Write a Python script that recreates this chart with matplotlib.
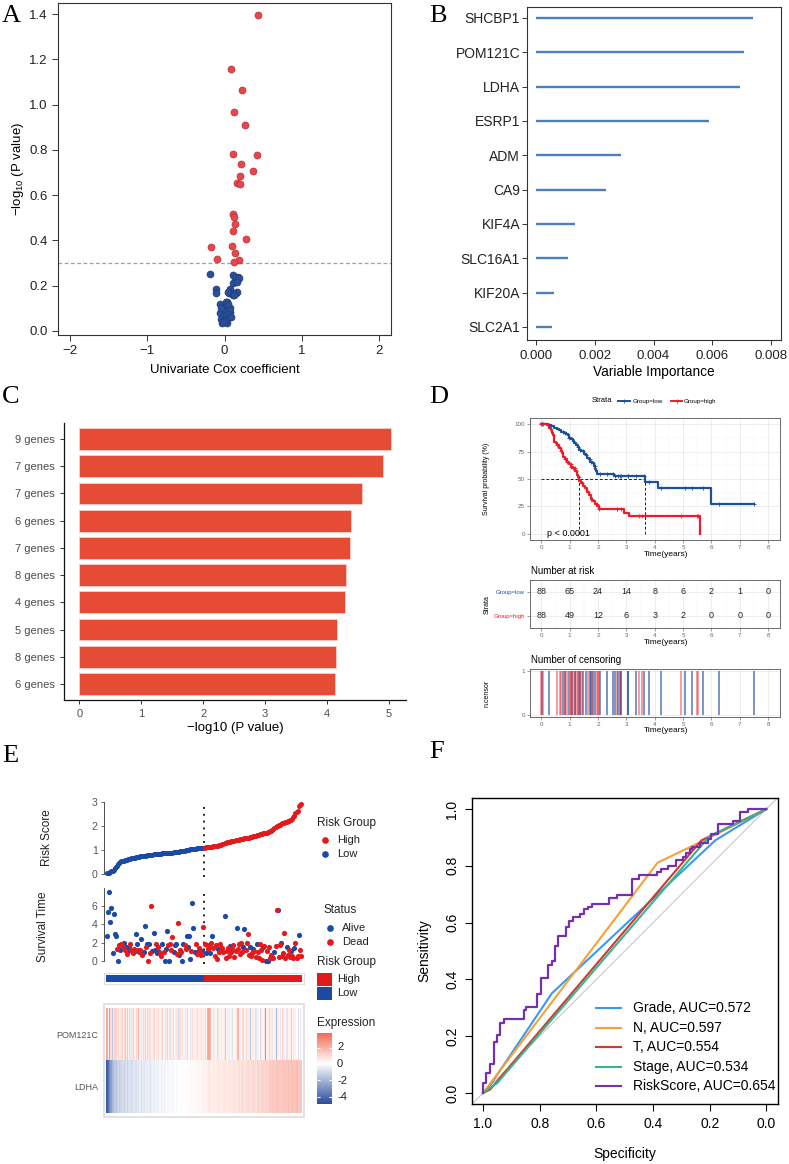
import numpy as np
import matplotlib.pyplot as plt
from matplotlib.lines import Line2D
from matplotlib.patches import Rectangle
from matplotlib.colors import LinearSegmentedColormap, Normalize

plt.rcParams['font.family'] = ['Liberation Sans', 'DejaVu Sans']
plt.rcParams['mathtext.fontset'] = 'custom'
plt.rcParams['mathtext.rm'] = 'Liberation Sans'
plt.rcParams['mathtext.default'] = 'regular'

# ── A : volcano Cox univarié ──
cox_coef = [0.437, 0.082, 0.229, 0.121, 0.268, 0.113, 0.420, 0.212, 0.368, 0.203,
            0.156, 0.203, 0.108, 0.126, 0.139, 0.113, 0.277, -0.169, 0.100, 0.130,
            -0.095, 0.190, 0.117,
            -0.186, 0.113, 0.173, 0.139, 0.186, 0.108, 0.156, -0.104, -0.104, 0.069,
            0.052, 0.104, 0.143, 0.078, 0.035, -0.052, 0.017, 0.069, -0.017, -0.061,
            0.056, -0.009, -0.039, 0.035, -0.030, 0.026, 0.000, -0.043, 0.013, 0.069,
            -0.020, 0.040, 0.160, 0.120, 0.090, 0.050]
cox_logp = [1.397, 1.159, 1.065, 0.969, 0.910, 0.780, 0.776, 0.739, 0.705, 0.683,
            0.654, 0.649, 0.515, 0.502, 0.473, 0.442, 0.408, 0.372, 0.377, 0.346,
            0.318, 0.312, 0.305,
            0.253, 0.249, 0.238, 0.233, 0.234, 0.213, 0.216, 0.184, 0.169, 0.184,
            0.166, 0.159, 0.169, 0.174, 0.130, 0.119, 0.110, 0.084, 0.093, 0.078,
            0.075, 0.066, 0.052, 0.053, 0.037, 0.037, 0.049, 0.100, 0.130, 0.100,
            0.040, 0.170, 0.170, 0.160, 0.060, 0.120]
cox_cut = 0.3

# ── B : importance des variables ──
genes_B = ["SHCBP1", "POM121C", "LDHA", "ESRP1", "ADM", "CA9", "KIF4A",
           "SLC16A1", "KIF20A", "SLC2A1"]
importance_B = [0.00738, 0.00709, 0.00695, 0.00588, 0.00289, 0.00238, 0.00134,
                0.00110, 0.00060, 0.00056]

# ── C : combinaisons de gènes ──
combo_labels = ["9 genes", "7 genes", "7 genes", "6 genes", "7 genes", "8 genes",
                "4 genes", "5 genes", "8 genes", "6 genes"]
combo_logp = [5.03, 4.91, 4.57, 4.39, 4.37, 4.31, 4.29, 4.16, 4.15, 4.14]

# ── D : Kaplan-Meier ──
km_low_t = [0, 0.25, 0.35, 0.45, 0.55, 0.62, 0.70, 0.80, 0.87, 0.93, 0.97, 1.05,
            1.10, 1.15, 1.22, 1.28, 1.33, 1.40, 1.50, 1.58, 1.62, 1.67, 1.72, 1.79,
            1.84, 1.90, 1.94, 1.97, 2.55, 3.66, 4.13, 6.00]
km_low_s = [100, 98.9, 97.8, 96.6, 95.5, 94.3, 93.2, 92.0, 90.8, 89.6, 87.2, 86.0,
            84.8, 82.4, 81.2, 78.8, 76.4, 75.2, 72.8, 71.6, 69.2, 68.0, 65.6, 64.3,
            61.9, 59.5, 57.1, 54.7, 52.4, 47.4, 41.5, 27.6]
km_low_end = 7.5
km_high_t = [0, 0.20, 0.27, 0.33, 0.38, 0.42, 0.45, 0.50, 0.56, 0.62, 0.68, 0.72,
             0.77, 0.82, 0.90, 0.98, 1.05, 1.12, 1.20, 1.27, 1.30, 1.33, 1.40, 1.47,
             1.55, 1.62, 1.67, 1.75, 1.80, 1.90, 1.97, 2.02, 2.92, 3.08, 5.60]
km_high_s = [100, 98.9, 96.6, 94.3, 92.0, 89.7, 84.0, 82.8, 80.5, 78.2, 75.9, 73.6,
             70.1, 67.8, 65.5, 63.2, 60.9, 59.7, 57.4, 54.0, 51.7, 48.3, 46.0, 43.7,
             41.4, 37.9, 35.6, 32.2, 29.9, 27.6, 25.3, 23.0, 19.5, 16.1, 0]
cens_low = [0.04, 0.27, 0.77, 0.82, 0.97, 1.08, 1.20, 1.28, 1.35, 1.47, 1.59, 1.71,
            1.76, 1.83, 1.88, 2.08, 2.32, 2.53, 2.60, 2.69, 2.76, 2.81, 3.04, 3.07,
            3.34, 3.63, 3.81, 4.22, 5.08, 5.31, 5.71, 6.26, 7.50]
cens_high = [0.00, 0.06, 0.56, 0.65, 0.71, 0.85, 0.91, 1.03, 1.06, 1.12, 1.17, 1.24,
             1.32, 1.38, 1.44, 1.64, 1.79, 1.96, 2.00, 2.03, 2.67, 2.80, 3.46, 3.54,
             4.92, 5.50, 5.53]
median_low, median_high = 3.66, 1.33
risk_years = [0, 1, 2, 3, 4, 5, 6, 7, 8]
at_risk_low = [88, 65, 24, 14, 8, 6, 2, 1, 0]
at_risk_high = [88, 49, 12, 6, 3, 2, 0, 0, 0]

# ── E : score de risque, survie, heatmap ──
score_low = [0.04, 0.05, 0.07, 0.09, 0.12, 0.15, 0.19, 0.24, 0.30, 0.36,
             0.42, 0.46, 0.50, 0.53, 0.55, 0.57, 0.58, 0.60, 0.61, 0.62,
             0.63, 0.64, 0.66, 0.67, 0.68, 0.69, 0.70, 0.71, 0.72, 0.73,
             0.74, 0.75, 0.75, 0.76, 0.77, 0.77, 0.78, 0.79, 0.80, 0.80,
             0.81, 0.81, 0.82, 0.82, 0.83, 0.83, 0.84, 0.84, 0.85, 0.85,
             0.86, 0.86, 0.87, 0.87, 0.88, 0.88, 0.89, 0.89, 0.90, 0.90,
             0.91, 0.91, 0.92, 0.93, 0.93, 0.94, 0.95, 0.95, 0.96, 0.97,
             0.98, 0.99, 1.00, 1.01, 1.02, 1.03, 1.04, 1.05, 1.05, 1.06,
             1.06, 1.07, 1.07, 1.08, 1.08, 1.09, 1.09, 1.10]
score_high = [1.10, 1.11, 1.11, 1.12, 1.12, 1.13, 1.13, 1.14, 1.15, 1.16,
              1.17, 1.18, 1.19, 1.20, 1.21, 1.22, 1.24, 1.26, 1.28, 1.30,
              1.32, 1.33, 1.34, 1.35, 1.36, 1.37, 1.38, 1.39, 1.40, 1.41,
              1.42, 1.43, 1.44, 1.45, 1.46, 1.47, 1.48, 1.49, 1.50, 1.51,
              1.52, 1.53, 1.54, 1.55, 1.57, 1.58, 1.60, 1.61, 1.62, 1.64,
              1.65, 1.66, 1.68, 1.69, 1.70, 1.71, 1.72, 1.74, 1.76, 1.78,
              1.80, 1.84, 1.88, 1.92, 1.95, 1.98, 2.00, 2.03, 2.05, 2.08,
              2.10, 2.12, 2.14, 2.16, 2.18, 2.20, 2.22, 2.24, 2.26, 2.30,
              2.36, 2.42, 2.52, 2.58, 2.62, 2.84, 2.87, 2.89]
time_low = [2.75, 5.35, 7.52, 4.25, 5.75, 0.85, 5.10, 2.95, 2.70, 1.30,
            0.05, 1.75, 1.25, 1.85, 1.55, 2.00, 1.20, 1.55, 0.80, 1.10,
            1.45, 1.90, 1.20, 0.85, 1.30, 1.05, 2.90, 1.90, 1.15, 1.00,
            1.20, 2.35, 0.70, 1.00, 3.80, 1.50, 1.80, 0.05, 1.90, 0.90,
            6.00, 1.10, 3.05, 1.25, 1.80, 0.85, 1.50, 0.95, 0.85, 0.60,
            1.90, 1.00, 0.05, 1.35, 3.30, 1.75, 0.05, 1.90, 1.20, 2.65,
            1.00, 1.75, 1.90, 0.80, 4.15, 0.70, 1.25, 1.00, 0.05, 1.90,
            1.70, 1.30, 2.70, 1.55, 2.70, 0.20, 1.05, 6.25, 3.55, 0.95,
            1.80, 0.75, 1.00, 1.40, 0.95, 0.65, 1.10, 3.65]
dead_low = [0, 0, 0, 0, 0, 0, 0, 0, 0, 1,
            0, 1, 0, 1, 1, 0, 1, 0, 1, 0,
            0, 1, 1, 1, 1, 0, 0, 0, 1, 1,
            1, 0, 1, 0, 0, 1, 0, 1, 0, 1,
            1, 0, 0, 0, 1, 0, 1, 0, 1, 1,
            0, 1, 0, 0, 0, 1, 0, 1, 1, 1,
            0, 0, 0, 1, 1, 0, 1, 1, 0, 0,
            1, 1, 0, 0, 0, 0, 1, 0, 0, 0,
            1, 1, 0, 1, 1, 1, 0, 1]
time_high = [1.85, 0.90, 1.75, 1.35, 1.65, 0.85, 1.95, 2.70, 1.40, 0.55,
             1.70, 0.20, 1.35, 1.00, 1.80, 1.35, 1.45, 0.95, 4.90, 0.35,
             1.10, 1.45, 0.60, 1.60, 1.00, 1.30, 1.75, 0.40, 1.05, 3.55,
             1.30, 1.90, 0.80, 2.00, 1.00, 1.50, 3.45, 1.20, 1.95, 2.90,
             0.70, 1.55, 0.60, 0.90, 1.30, 1.05, 0.45, 1.80, 1.00, 0.30,
             1.80, 1.25, 0.10, 1.50, 1.65, 0.05, 1.10, 0.05, 1.55, 0.35,
             0.70, 0.40, 0.30, 1.00, 1.60, 5.55, 5.55, 0.40, 1.70, 2.00,
             0.55, 0.85, 3.05, 0.30, 1.55, 0.70, 1.20, 0.40, 1.10, 0.60,
             0.35, 1.40, 2.00, 0.30, 0.50, 2.80, 1.25, 0.60]
dead_high = [1, 0, 1, 1, 1, 0, 1, 0, 1, 1,
             1, 1, 0, 1, 1, 0, 1, 1, 0, 1,
             1, 1, 1, 0, 1, 1, 1, 1, 1, 0,
             1, 1, 1, 1, 1, 0, 0, 1, 1, 1,
             1, 0, 1, 1, 0, 1, 1, 0, 1, 1,
             1, 1, 1, 0, 1, 0, 1, 0, 1, 1,
             1, 1, 1, 0, 1, 1, 0, 1, 1, 0,
             1, 1, 1, 1, 0, 1, 1, 1, 0, 1,
             1, 0, 1, 1, 1, 0, 1, 1]
expr_pom121c = [2.4, 1.8, -0.5, 2.6, 0.8, -1.5, 0.6, 1.2, -0.8, 0.9,
                0.4, 1.0, -0.3, 0.7, 1.1, 0.2, 0.9, -1.2, 0.5, 1.4,
                0.3, 0.8, -0.6, 0.6, 1.2, 0.4, -0.2, 1.0, 0.5, 2.0,
                0.3, 0.7, -0.4, 0.9, 0.5, 1.3, 0.2, -0.9, 0.6, 0.8,
                0.4, -0.3, 0.7, 1.1, 0.2, 0.6, -0.5, 0.9, 0.3, 0.7,
                1.0, 0.4, -0.2, 0.8, 0.5, 1.2, 0.3, -0.7, 0.6, 0.4,
                0.9, 0.2, -0.4, 0.7, 0.5, -1.0, 0.8, 0.3, 0.6, 0.4,
                -0.3, 0.7, 0.5, 1.0, 0.2, -0.6, 0.4, 0.8, 0.3, 0.6,
                -0.2, 0.5, 0.9, 0.4, 0.6, 0.7, 0.4, -0.5, 0.3, -0.8,
                0.2, 2.0, 2.2, 1.9, 0.3, 0.1, -0.6, 0.4, -0.3, 0.2,
                -0.9, 0.5, 0.1, -0.5, 0.3, -0.2, 0.6, -1.3, 0.2, 0.4,
                -0.4, 0.1, 0.5, -0.7, 0.3, 0.2, -0.3, 0.4, 1.8, 0.6,
                -0.5, 0.3, 0.8, -0.9, 0.4, 0.2, 1.0, -0.4, 0.5, -1.5,
                0.3, 0.6, -0.3, 0.2, 0.9, -0.6, 0.4, 0.1, -1.0, 0.5,
                0.3, -0.2, 0.6, -2.6, 0.2, 0.4, -0.8, 0.3, -0.5, 0.7,
                0.2, -0.3, 0.5, -1.8, 0.4, 0.1, -0.6, 0.3, 1.2, -0.4,
                0.5, 0.2, -0.7, 0.3, -0.2, 0.4, -1.2, 0.2, -0.5, 0.3,
                -0.3, 0.1, -0.8, 0.2, -0.4, 0.1]
expr_ldha = [-4.6, -4.2, -3.8, -3.2, -2.6, -2.0, -1.7, -1.5, -1.3, -1.6,
             -1.2, -1.0, -1.4, -1.1, -0.9, -1.0, -1.2, -0.8, -0.9, -1.1,
             -0.8, -0.7, -0.9, -1.0, -0.7, -0.6, -0.8, -0.9, -0.6, -0.7,
             -0.5, -0.8, -0.6, -0.5, -0.7, -0.4, -0.6, -0.5, -0.4, -0.6,
             -0.5, -0.3, -0.4, -0.5, -0.3, -0.4, -0.3, -0.5, -0.2, -0.3,
             -0.3, -0.2, -0.4, -0.2, -0.1, -0.3, -0.2, -0.1, -0.2, -0.1,
             -0.2, 0.0, -0.1, -0.2, 0.0, -0.1, 0.0, 0.1, -0.1, 0.0,
             0.1, 0.0, 0.1, 0.0, 0.1, 0.2, 0.0, 0.1, 0.2, 0.1,
             0.2, 0.1, 0.3, 0.2, 0.1, 0.3, 0.2, 0.4, 0.3, 0.2,
             0.4, 0.3, 0.5, 0.4, 0.3, 0.5, 0.4, 0.6, 0.3, 0.5,
             0.4, 0.6, 0.5, 0.4, 0.6, 0.5, 0.7, 0.5, 0.6, 0.4,
             0.6, 0.7, 0.5, 0.6, 0.8, 0.6, 0.7, 0.5, 0.7, 0.8,
             0.6, 0.7, 0.9, 0.7, 0.6, 0.8, 0.7, 0.9, 0.8, 0.7,
             0.9, 0.8, 1.0, 0.8, 0.9, 0.7, 1.0, 0.9, 0.8, 1.0,
             0.9, 1.1, 1.0, 0.9, 1.1, 1.0, 1.2, 1.3, 1.2, 1.4,
             1.3, 1.2, 1.4, 1.3, 1.5, 1.3, 1.4, 1.2, 1.5, 1.4,
             1.3, 1.5, 1.4, 1.6, 1.3, 1.5, 1.4, 1.6, 1.5, 1.4,
             1.5, 1.6, 1.4, 1.5, 1.3, 1.5]
expr_range = (-4.85, 3.76)

# ── F : courbes ROC ──
roc_grade_spec = [1.0, 0.985, 0.757, 0.18, 0.0]
roc_grade_sens = [0.0, 0.012, 0.351, 0.89, 1.0]
roc_n_spec = [1.0, 0.384, 0.23, 0.0]
roc_n_sens = [0.0, 0.811, 0.885, 1.0]
roc_t_spec = [1.0, 0.975, 0.229, 0.0]
roc_t_sens = [0.0, 0.012, 0.890, 1.0]
roc_stage_spec = [1.0, 0.95, 0.20, 0.0]
roc_stage_sens = [0.0, 0.035, 0.905, 1.0]
roc_risk_spec = [1.000, 0.988, 0.974, 0.962, 0.951, 0.939, 0.925, 0.857, 0.847, 0.808,
                 0.796, 0.771, 0.757, 0.745, 0.734, 0.708, 0.695, 0.681, 0.657, 0.642,
                 0.630, 0.616, 0.554, 0.528, 0.475, 0.450, 0.387, 0.372, 0.346, 0.319,
                 0.293, 0.282, 0.270, 0.261, 0.235, 0.205, 0.194, 0.170, 0.117, 0.094,
                 0.065, 0.000]
roc_risk_sens = [0.034, 0.069, 0.101, 0.180, 0.203, 0.245, 0.262, 0.292, 0.304, 0.347,
                 0.405, 0.450, 0.465, 0.518, 0.553, 0.586, 0.606, 0.620, 0.631, 0.647,
                 0.655, 0.667, 0.688, 0.698, 0.755, 0.766, 0.778, 0.790, 0.800, 0.820,
                 0.832, 0.846, 0.858, 0.867, 0.879, 0.893, 0.911, 0.946, 0.958, 0.989,
                 1.000, 1.000]
roc_labels = ["Grade, AUC=0.572", "N, AUC=0.597", "T, AUC=0.554",
              "Stage, AUC=0.534", "RiskScore, AUC=0.654"]
roc_colors = ["#3A99F0", "#F7A035", "#D03A2E", "#3BB38E", "#7430B0"]

# ── Figure ──
W, H = 789, 1164
fig = plt.figure(figsize=(W / 100, H / 100), dpi=100)


def box(l, t, r, b):
    return fig.add_axes([l / W, 1 - b / H, (r - l) / W, (b - t) / H])


def ftext(x, y, s, **kw):
    fig.text(x / W, 1 - y / H, s, **kw)


def fpt(x, y):
    return x / W, 1 - y / H


def letter(x, y, s):
    ftext(x, y, s, fontsize=19, family="Liberation Serif", va="baseline", ha="left")


letter(2, 22, "A")
letter(429, 22, "B")
letter(2, 403, "C")
letter(429, 403, "D")
letter(2, 762, "E")
letter(429, 758, "F")

RED_PT, BLUE_PT = "#E8464B", "#2A4E98"

# ════════ A ════════
ax = box(58, 3, 391, 335)
cc = np.array(cox_coef)
lp = np.array(cox_logp)
sig = lp > cox_cut
ax.axhline(cox_cut, color="#a0a0a0", ls=(0, (3, 2)), lw=0.9, zorder=1)
ax.scatter(cc[~sig], lp[~sig], s=26, c=BLUE_PT, edgecolors="#1d3a78", linewidths=0.4, zorder=3)
ax.scatter(cc[sig], lp[sig], s=26, c=RED_PT, edgecolors="#b0272c", linewidths=0.4, zorder=3)
ax.set_xlim(-2.15, 2.15)
ax.set_ylim(-0.018, 1.449)
ax.set_xticks([-2, -1, 0, 1, 2])
ax.set_yticks(np.arange(0, 1.41, 0.2))
ax.set_yticklabels([f"{v:.1f}" for v in np.arange(0, 1.41, 0.2)])
ax.tick_params(labelsize=9.5, length=4, width=0.7, color="#333333", labelcolor="#222222")
for s in ax.spines.values():
    s.set_linewidth(0.8)
    s.set_color("#333333")
ax.set_xlabel("Univariate Cox coefficient", fontsize=9.5, labelpad=5)
ax.set_ylabel("−log$_{10}$ (P value)", fontsize=9.5, labelpad=2)

# ════════ B ════════
ax = box(527, 7, 781, 340)
yb = np.arange(len(genes_B))[::-1]
ax.hlines(yb, 0, importance_B, color="#4A80BD", lw=1.7)
ax.set_xlim(-0.000306, 0.00834)
ax.set_ylim(-0.38, 9.32)
ax.set_yticks(yb)
ax.set_yticklabels(genes_B)
ax.set_xticks([0, 0.002, 0.004, 0.006, 0.008])
ax.set_xticklabels(["0.000", "0.002", "0.004", "0.006", "0.008"])
ax.tick_params(labelsize=9.5, length=3.5, width=0.7, color="#333333", labelcolor="#222222")
ax.tick_params(axis="y", labelsize=10, pad=1.5)
for s in ax.spines.values():
    s.set_linewidth(0.8)
    s.set_color("#333333")
ax.set_xlabel("Variable Importance", fontsize=9.8, labelpad=2)

# ════════ C ════════
ax = box(64, 423, 406, 700)
yc = np.arange(len(combo_labels))[::-1] + 1
ax.barh(yc, combo_logp, height=0.8, color="#E64B35", edgecolor="#F8D0C8", lw=0.6)
ax.set_xlim(-0.25, 5.28)
ax.set_ylim(0.41, 10.59)
ax.set_yticks(yc)
ax.set_yticklabels(combo_labels)
ax.set_xticks(range(6))
for side in ["top", "right"]:
    ax.spines[side].set_visible(False)
for side in ["left", "bottom"]:
    ax.spines[side].set_linewidth(0.9)
    ax.spines[side].set_color("#111111")
ax.tick_params(labelsize=8, length=3, width=0.7, color="#333333", labelcolor="#4d4d4d")
ax.set_xlabel("−log10 (P value)", fontsize=9.5, labelpad=2)

# ════════ D ════════
KM_BLUE, KM_RED = "#1C4F9C", "#EE1C25"


def bw(ax, yt):
    ax.set_xlim(-0.4, 8.4)
    ax.set_xticks(range(9))
    ax.set_xticks(np.arange(0.5, 8, 1), minor=True)
    ax.set_yticks(yt)
    ax.grid(True, which="major", color="#e6e6e6", lw=0.5)
    ax.grid(True, which="minor", color="#f3f3f3", lw=0.3)
    ax.set_axisbelow(True)
    ax.tick_params(which="minor", length=0)
    ax.tick_params(which="major", length=2, width=0.4, color="#555555",
                   labelsize=4.5, labelcolor="#666666", pad=1.5)
    for s in ax.spines.values():
        s.set_linewidth(0.6)
        s.set_color("#555555")


def surv_at(tt, ss, t):
    i = np.searchsorted(tt, t, side="right") - 1
    return np.array(ss)[i]


ax = box(530, 418, 779.5, 540)
bw(ax, [0, 25, 50, 75, 100])
ax.set_yticks([12.5, 37.5, 62.5, 87.5], minor=True)
ax.set_ylim(-5.5, 105.5)
ax.hlines(50, 0, median_low, color="#222222", ls=(0, (3, 2)), lw=0.7)
ax.vlines([median_high, median_low], 0, 50, color="#222222", ls=(0, (3, 2)), lw=0.7)
ax.step(km_low_t + [km_low_end], km_low_s + [km_low_s[-1]], where="post", color=KM_BLUE, lw=1.6)
ax.step(km_high_t, km_high_s, where="post", color=KM_RED, lw=1.6)
ax.plot(cens_low, surv_at(km_low_t, km_low_s, cens_low), "+", color=KM_BLUE, ms=3.5, mew=0.6)
ch = [c for c in cens_high if c < km_high_t[-1]]
ax.plot(ch, surv_at(km_high_t, km_high_s, ch), "+", color=KM_RED, ms=3.5, mew=0.6)
ax.text(0.2, 0, "p < 0.0001", fontsize=6.5, va="center", ha="left")
ftext(666, 554, "Time(years)", fontsize=6, ha="center", va="center")
ftext(487, 479, "Survival probability (%)", fontsize=5, rotation=90, ha="center", va="center")
ftext(592, 401, "Strata", fontsize=5.5, va="center")
fig.add_artist(Line2D([618 / W, 630 / W], [1 - 401 / H] * 2, color=KM_BLUE, lw=1.4,
                      transform=fig.transFigure))
fig.add_artist(Line2D([624 / W], [1 - 401 / H], marker="+", color=KM_BLUE, ms=3, mew=0.6,
                      transform=fig.transFigure))
ftext(633, 401, "Group=low", fontsize=4.5, va="center")
fig.add_artist(Line2D([671 / W, 682 / W], [1 - 401 / H] * 2, color=KM_RED, lw=1.4,
                      transform=fig.transFigure))
fig.add_artist(Line2D([676.5 / W], [1 - 401 / H], marker="+", color=KM_RED, ms=3, mew=0.6,
                      transform=fig.transFigure))
ftext(684, 401, "Group=high", fontsize=4.5, va="center")

# table des effectifs
ax = box(530, 580, 779.5, 628)
bw(ax, [1, 2])
ax.set_ylim(0.5, 2.5)
for x, nl, nh in zip(risk_years, at_risk_low, at_risk_high):
    ax.text(x, 2, str(nl), fontsize=6.5, ha="center", va="center", color="#222222")
    ax.text(x, 1, str(nh), fontsize=6.5, ha="center", va="center", color="#222222")
ax.set_yticklabels(["Group=high", "Group=low"])
ax.get_yticklabels()[0].set_color(KM_RED)
ax.get_yticklabels()[1].set_color(KM_BLUE)
ax.tick_params(axis="y", labelsize=4.3)
ftext(531, 571, "Number at risk", fontsize=7, va="center")
ftext(666, 643, "Time(years)", fontsize=6, ha="center", va="center")
ftext(487, 605, "Strata", fontsize=5, rotation=90, ha="center", va="center")

# censures
ax = box(530, 669, 779.5, 717)
bw(ax, [0, 1])
ax.set_ylim(-0.045, 1.045)
ax.vlines(cens_low, 0, 1, color=KM_BLUE, lw=1.1, alpha=0.75)
ax.vlines(cens_high, 0, 1, color=KM_RED, lw=1.1, alpha=0.55)
ftext(531, 660, "Number of censoring", fontsize=7, va="center")
ftext(666, 731, "Time(years)", fontsize=6, ha="center", va="center")
ftext(487, 693, "n.censor", fontsize=5, rotation=90, ha="center", va="center")

# ════════ E ════════
E_BLUE, E_RED = "#1B4AA6", "#E31A1C"
n = len(score_low) + len(score_high)
idx = np.arange(1, n + 1)
cut = len(score_low) + 0.5
XL = (-1.71, 178.7)


def clean(ax, top):
    ax.set_xlim(*XL)
    for side in ["top", "right", "bottom"]:
        ax.spines[side].set_visible(False)
    ax.spines["left"].set_bounds(0, top)
    ax.spines["left"].set_color("#333333")
    ax.spines["left"].set_linewidth(0.6)
    ax.set_xticks([])
    ax.tick_params(axis="y", length=2.5, width=0.5, color="#333333",
                   labelsize=7.5, labelcolor="#555555", pad=2)


ax = box(104, 798, 304, 878)
clean(ax, 3)
ax.set_ylim(-0.153, 3.153)
ax.set_yticks([0, 1, 2, 3])
ax.vlines(cut, -0.1, 2.9, color="#222222", ls=(0, (1, 2.5)), lw=1.4)
ax.scatter(idx[:len(score_low)], score_low, s=13, c=E_BLUE, lw=0, zorder=3)
ax.scatter(idx[len(score_low):], score_high, s=13, c=E_RED, lw=0, zorder=3)
ftext(47, 838, "Risk Score", fontsize=8.5, rotation=90, ha="center", va="center", color="#222222")

ax = box(104, 886, 304, 966)
clean(ax, 7.9)
ax.set_ylim(-0.54, 8.15)
ax.set_yticks([0, 2, 4, 6])
ax.vlines(cut, -0.3, 7.4, color="#222222", ls=(0, (1, 2.5)), lw=1.4)
tt = np.array(time_low + time_high)
dd = np.array(dead_low + dead_high) == 1
ax.scatter(idx[~dd], tt[~dd], s=14, c=E_BLUE, lw=0, zorder=3)
ax.scatter(idx[dd], tt[dd], s=14, c=E_RED, lw=0, zorder=3)
ftext(43, 927, "Survival Time", fontsize=8.5, rotation=90, ha="center", va="center", color="#222222")

ax = box(104, 973, 304, 984)
ax.bar(idx, 1, width=1.0, color=[E_BLUE] * len(score_low) + [E_RED] * len(score_high), lw=0)
ax.set_xlim(*XL)
ax.set_ylim(-0.28, 1.28)
ax.set_xticks([])
ax.set_yticks([])
for s in ax.spines.values():
    s.set_color("#dedede")
    s.set_linewidth(0.8)

cmap_expr = LinearSegmentedColormap.from_list("expr", ["#2B4D9F", "#FFFFFF", "#EF3B1A"])
norm_expr = Normalize(-4.85, 4.85)
ax = box(104, 1004, 304, 1117)
ax.imshow(np.array([expr_pom121c, expr_ldha]), cmap=cmap_expr, norm=norm_expr,
          extent=(0.5, n + 0.5, 1.5, -0.5), aspect="auto", interpolation="nearest")
ax.set_xlim(*XL)
ax.set_ylim(1.577, -0.596)
ax.set_xticks([])
ax.set_yticks([0, 1])
ax.set_yticklabels(["POM121C", "LDHA"])
ax.tick_params(axis="y", length=0, labelsize=6.5, labelcolor="#555555", pad=4)
for s in ax.spines.values():
    s.set_color("#e2e2e2")
    s.set_linewidth(1.4)

# légendes E
ftext(317, 823, "Risk Group", fontsize=8.5, va="center", color="#222222")
for y, c, lab in [(840, E_RED, "High"), (854, E_BLUE, "Low")]:
    fig.add_artist(Line2D([325 / W], [1 - y / H], marker="o", ms=3.8, color=c, lw=0,
                          transform=fig.transFigure))
    ftext(337, y, lab, fontsize=8, va="center", color="#222222")
ftext(323, 910, "Status", fontsize=8.5, va="center", color="#222222")
for y, c, lab in [(928, E_BLUE, "Alive"), (942, E_RED, "Dead")]:
    fig.add_artist(Line2D([330 / W], [1 - y / H], marker="o", ms=3.8, color=c, lw=0,
                          transform=fig.transFigure))
    ftext(342, y, lab, fontsize=8, va="center", color="#222222")
ftext(317, 962, "Risk Group", fontsize=8.5, va="center", color="#222222")
for y0, c, lab in [(973, E_RED, "High"), (987, E_BLUE, "Low")]:
    x0, y1 = fpt(317, y0 + 13)
    fig.add_artist(Rectangle((x0, y1), 15 / W, 13 / H, color=c, lw=0,
                             transform=fig.transFigure))
    ftext(337, y0 + 6.5, lab, fontsize=8, va="center", color="#222222")
ftext(317, 1023, "Expression", fontsize=8.5, va="center", color="#222222")
cax = box(317, 1033, 332, 1104)
grad = np.linspace(expr_range[0], expr_range[1], 256)[:, None]
cax.imshow(grad, cmap=cmap_expr, norm=norm_expr, origin="lower", aspect="auto",
           extent=(0, 1, expr_range[0], expr_range[1]))
cax.set_xlim(0, 1)
cax.set_ylim(*expr_range)
for v in [2, 0, -2, -4]:
    cax.hlines(v, 0, 0.2, color="white", lw=0.8)
    cax.hlines(v, 0.8, 1, color="white", lw=0.8)
    ftext(337, 1064 - v * 8.25, str(v), fontsize=8, va="center", color="#222222")
cax.set_xticks([])
cax.set_yticks([])
for s in cax.spines.values():
    s.set_visible(False)

# ════════ F ════════
ax = box(471.7, 797.7, 777.7, 1104.3)
ax.set_xlim(1.04, -0.04)
ax.set_ylim(-0.04, 1.04)
ax.plot([1.04, -0.04], [-0.04, 1.04], color="#c8c8c8", lw=0.8)
curves = [(roc_grade_spec, roc_grade_sens), (roc_n_spec, roc_n_sens),
          (roc_t_spec, roc_t_sens), (roc_stage_spec, roc_stage_sens)]
for (sx, sy), col in zip(curves, roc_colors[:4]):
    ax.plot(sx, sy, color=col, lw=1.5)
px, py = [roc_risk_spec[0]], [0.0]
for sp, se in zip(roc_risk_spec, roc_risk_sens):
    px += [sp, sp]
    py += [py[-1], se]
ax.plot(px, py, color=roc_colors[4], lw=1.6)
ticks = [1.0, 0.8, 0.6, 0.4, 0.2, 0.0]
ax.set_xticks(ticks)
ax.set_xticklabels([f"{t:.1f}" for t in ticks])
ax.set_yticks(ticks[::-1])
ax.set_yticklabels([f"{t:.1f}" for t in ticks[::-1]], rotation=90, va="center")
ax.tick_params(labelsize=10, length=5, width=0.8, pad=4)
for s in ax.spines.values():
    s.set_linewidth(1.0)
ax.set_xlabel("Specificity", fontsize=10, labelpad=12)
ax.set_ylabel("Sensitivity", fontsize=10, labelpad=10)
for k, (lab, col) in enumerate(zip(roc_labels, roc_colors)):
    y = 1008 + k * 19.5
    fig.add_artist(Line2D([596 / W, 621 / W], [1 - y / H] * 2, color=col, lw=1.5,
                          transform=fig.transFigure))
    ftext(633, y, lab, fontsize=10, va="center")

fig.savefig("out.png", dpi=100)
